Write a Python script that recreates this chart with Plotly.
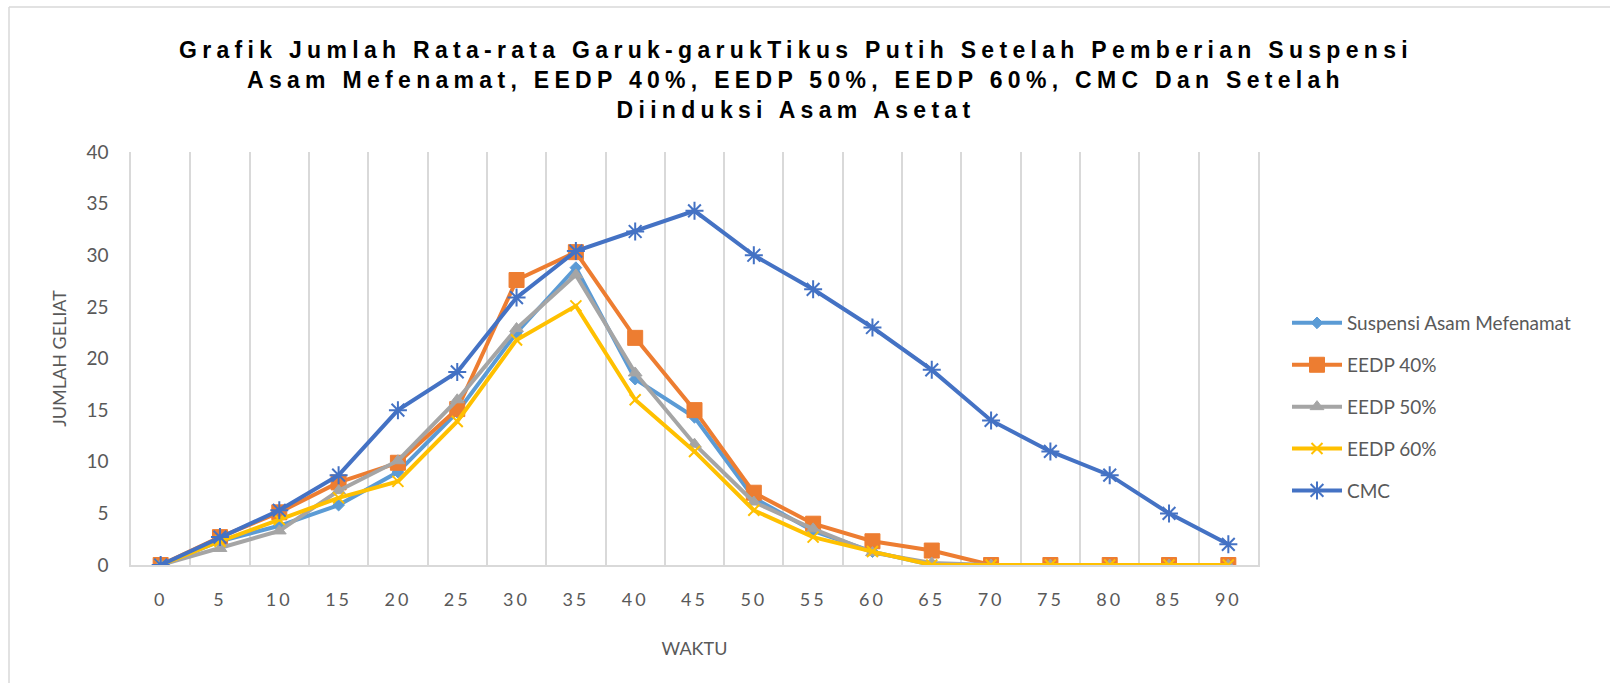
import plotly.graph_objects as go

# ---- data ----
waktu = [0, 5, 10, 15, 20, 25, 30, 35, 40, 45, 50, 55, 60, 65, 70, 75, 80, 85, 90]
suspensi = [0, 2.3, 3.8, 5.8, 9.0, 14.8, 22.5, 28.8, 18.0, 14.3, 6.5, 3.3, 1.3, 0, 0, 0, 0, 0, 0]
eedp40 = [0, 2.7, 5.1, 8.0, 9.9, 15.1, 27.6, 30.3, 22.0, 15.0, 7.0, 4.0, 2.3, 1.4, 0, 0, 0, 0, 0]
eedp50 = [0, 1.6, 3.3, 7.2, 10.1, 16.0, 22.9, 28.1, 18.6, 11.7, 6.1, 3.5, 1.2, 0.2, 0, 0, 0, 0, 0]
eedp60 = [0, 2.3, 4.4, 6.5, 8.1, 13.9, 21.8, 25.1, 16.0, 11.0, 5.3, 2.7, 1.3, 0, 0, 0, 0, 0, 0]
cmc = [0, 2.7, 5.3, 8.7, 15.0, 18.7, 25.9, 30.4, 32.3, 34.3, 30.0, 26.7, 23.0, 18.9, 14.0, 11.0, 8.7, 5.0, 2.0]

series_names = ["Suspensi Asam Mefenamat", "EEDP 40%", "EEDP 50%", "EEDP 60%", "CMC"]
series_values = [suspensi, eedp40, eedp50, eedp60, cmc]
colors = ["#5B9BD5", "#ED7D31", "#A5A5A5", "#FFC000", "#4472C4"]
symbols = ["diamond", "square", "triangle-up", "x-thin-open", "asterisk-open"]
msizes = [9, 15, 12, 11, 15]
mlinew = [1, 1, 1, 2, 2]

title_text = ("Grafik Jumlah Rata-rata Garuk-garukTikus Putih Setelah Pemberian Suspensi<br>"
              "Asam Mefenamat, EEDP 40%, EEDP 50%, EEDP 60%, CMC Dan Setelah<br>"
              "Diinduksi Asam Asetat")

W, H = 1610, 683
ML, MR, MT, MB = 131, 352, 152, 118
grey_txt = "#595959"
grid = "#D9D9D9"

fig = go.Figure()
xcat = [str(v) for v in waktu]
for i, (name, vals) in enumerate(zip(series_names, series_values)):
    fig.add_trace(go.Scatter(
        x=xcat, y=vals, name=name, mode="lines+markers",
        legendgroup=f"g{i}",
        line=dict(color=colors[i], width=4),
        marker=dict(symbol=symbols[i], size=msizes[i], color=colors[i],
                    line=dict(color=colors[i], width=mlinew[i])),
    ))

pw = W - ML - MR
ph = H - MT - MB
def px2x(px):
    return (px - ML) / pw
def py2y(py):
    return (H - MB - py) / ph

fig.update_layout(
    width=W, height=H,
    margin=dict(l=ML, r=MR, t=MT, b=MB, autoexpand=False),
    paper_bgcolor="white", plot_bgcolor="white",
    title=dict(text=title_text, x=796 / W, xanchor="center", xref="container",
               y=1 - 58 / H, yanchor="middle", yref="container",
               font=dict(family="Liberation Sans, Arial, sans-serif", size=23, color="#000000",
                         weight="bold")),
    xaxis=dict(
        type="category", tickson="boundaries", showgrid=True, gridcolor=grid, gridwidth=1.5,
        range=[-0.5, len(waktu) - 0.5], autorange=False, automargin=False,
        showline=True, linecolor=grid, linewidth=1.5,
        ticks="", ticklabelstandoff=18,
        tickfont=dict(family="Lato", size=18, color=grey_txt),
        title=dict(text="WAKTU", font=dict(family="Lato", size=18, color=grey_txt), standoff=33),
        zeroline=False,
    ),
    yaxis=dict(
        range=[0, 40], dtick=5, tick0=0, showgrid=False, zeroline=False, automargin=False,
        showline=True, mirror=True, linecolor=grid, linewidth=1.5,
        ticks="outside", ticklen=17, tickcolor="rgba(0,0,0,0)",
        tickfont=dict(family="Lato", size=19, color=grey_txt),
        title=dict(text="JUMLAH GELIAT", font=dict(family="Lato", size=18, color=grey_txt), standoff=15),
    ),
    legend=dict(
        x=px2x(1287), xanchor="left", y=py2y(304), yanchor="top",
        font=dict(family="Lato", size=19, color=grey_txt),
        traceorder="grouped", tracegroupgap=14.2, itemwidth=50,
        bgcolor="rgba(0,0,0,0)",
    ),
    showlegend=True,
    shapes=[
        dict(type="line", xref="paper", yref="paper",
             x0=px2x(9), x1=px2x(9), y0=py2y(7), y1=py2y(700),
             line=dict(color=grid, width=1.5)),
        dict(type="line", xref="paper", yref="paper",
             x0=px2x(9), x1=px2x(1640), y0=py2y(7), y1=py2y(7),
             line=dict(color=grid, width=1.5)),
    ],
)

post = """
document.body.style.margin = '0';
var gd = document.getElementById('{plot_id}');
gd.querySelectorAll('.gtitle').forEach(function(t){t.style.letterSpacing='5.3px';});
gd.querySelectorAll('.xtick text').forEach(function(t){t.style.letterSpacing='3px';});
"""
fig.write_html("out.html", post_script=post, config={"displayModeBar": False})
